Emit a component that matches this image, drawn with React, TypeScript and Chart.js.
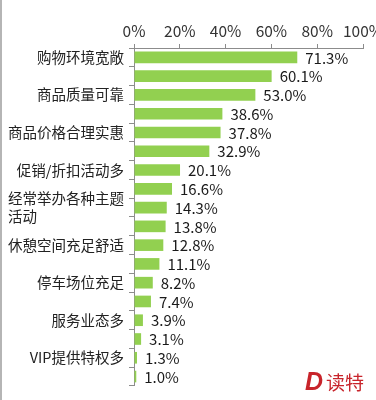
import React, { useEffect, useRef } from 'react';
import { Chart, registerables } from 'chart.js';

Chart.register(...registerables);

const categories: (string | string[])[] = [
  '购物环境宽敞', '',
  '商品质量可靠', '',
  '商品价格合理实惠', '',
  '促销/折扣活动多', '',
  ['经常举办各种主题', '活动\u3000\u3000\u3000\u3000\u3000\u3000'], '',
  '休憩空间充足舒适', '',
  '停车场位充足', '',
  '服务业态多', '',
  'VIP提供特权多', '',
];
const values = [71.3, 60.1, 53.0, 38.6, 37.8, 32.9, 20.1, 16.6, 14.3, 13.8, 12.8, 11.1, 8.2, 7.4, 3.9, 3.1, 1.3, 1.0];
const xTickValues = [0, 20, 40, 60, 80, 100];

const FONT = '"Noto Sans CJK SC", "Noto Sans", sans-serif';
const BAR = '#92d050';
const AXIS = '#8c8c8c';

const valueLabels = {
  id: 'valueLabels',
  afterDatasetsDraw(chart: any) {
    const ctx = chart.ctx;
    const meta = chart.getDatasetMeta(0);
    ctx.save();
    ctx.font = `15px ${FONT}`;
    ctx.fillStyle = '#1a1a1a';
    ctx.textAlign = 'left';
    ctx.textBaseline = 'middle';
    meta.data.forEach((bar: any, i: number) => {
      ctx.fillText(values[i].toFixed(1) + '%', bar.x + 8, bar.y + 0.5);
    });
    ctx.restore();
  },
};

export default function App() {
  const ref = useRef<HTMLCanvasElement | null>(null);
  useEffect(() => {
    if (!ref.current) return;
    const chart = new Chart(ref.current, {
      type: 'bar',
      data: {
        labels: categories as any,
        datasets: [
          {
            data: values,
            backgroundColor: BAR,
            borderWidth: 0,
            barPercentage: 0.62,
            categoryPercentage: 1,
          },
        ],
      },
      options: {
        indexAxis: 'y',
        animation: false,
        responsive: true,
        maintainAspectRatio: false,
        layout: { padding: { left: 0, top: 0, right: 37, bottom: 13 } },
        plugins: { legend: { display: false }, tooltip: { enabled: false } },
        scales: {
          x: {
            position: 'top',
            min: 0,
            max: 100,
            afterBuildTicks: (s: any) => {
              s.ticks = xTickValues.map((v) => ({ value: v }));
            },
            afterFit: (s: any) => {
              s.height = 48;
            },
            ticks: {
              callback: (v: any) => v + '%',
              color: '#333',
              font: { family: FONT, size: 15.5 },
              padding: 4,
              maxRotation: 0,
              autoSkip: false,
            },
            grid: { drawOnChartArea: false, tickLength: 4, color: AXIS },
            border: { color: AXIS },
          },
          y: {
            afterFit: (s: any) => {
              s.width = 134;
            },
            ticks: {
              autoSkip: false,
              color: '#222',
              font: { family: FONT, size: 14.5, lineHeight: 1.25 },
              padding: 5,
            },
            grid: { drawOnChartArea: false, tickLength: 5, color: AXIS, offset: true },
            border: { color: AXIS },
          },
        },
      } as any,
      plugins: [valueLabels],
    });
    return () => chart.destroy();
  }, []);

  return (
    <div
      style={{
        position: 'absolute',
        left: 0,
        top: 0,
        width: 376,
        height: 400,
        overflow: 'hidden',
        background: '#fff',
      }}
    >
      <div style={{ position: 'absolute', left: 0, top: 0, width: 400, height: 400 }}>
        <canvas ref={ref} />
      </div>
      <div style={{ position: 'absolute', left: 0, top: 0, width: 2, height: 400, background: '#b5b5b5' }} />
      <div
        style={{
          position: 'absolute',
          left: 305,
          top: 369,
          color: '#c8242b',
          whiteSpace: 'nowrap',
          lineHeight: '24px',
        }}
      >
        <span style={{ fontFamily: '"Liberation Sans", sans-serif', fontWeight: 900, fontStyle: 'italic', fontSize: 25 }}>D</span>
        <span style={{ fontFamily: FONT, fontSize: 19, marginLeft: 3 }}>读特</span>
      </div>
    </div>
  );
}
